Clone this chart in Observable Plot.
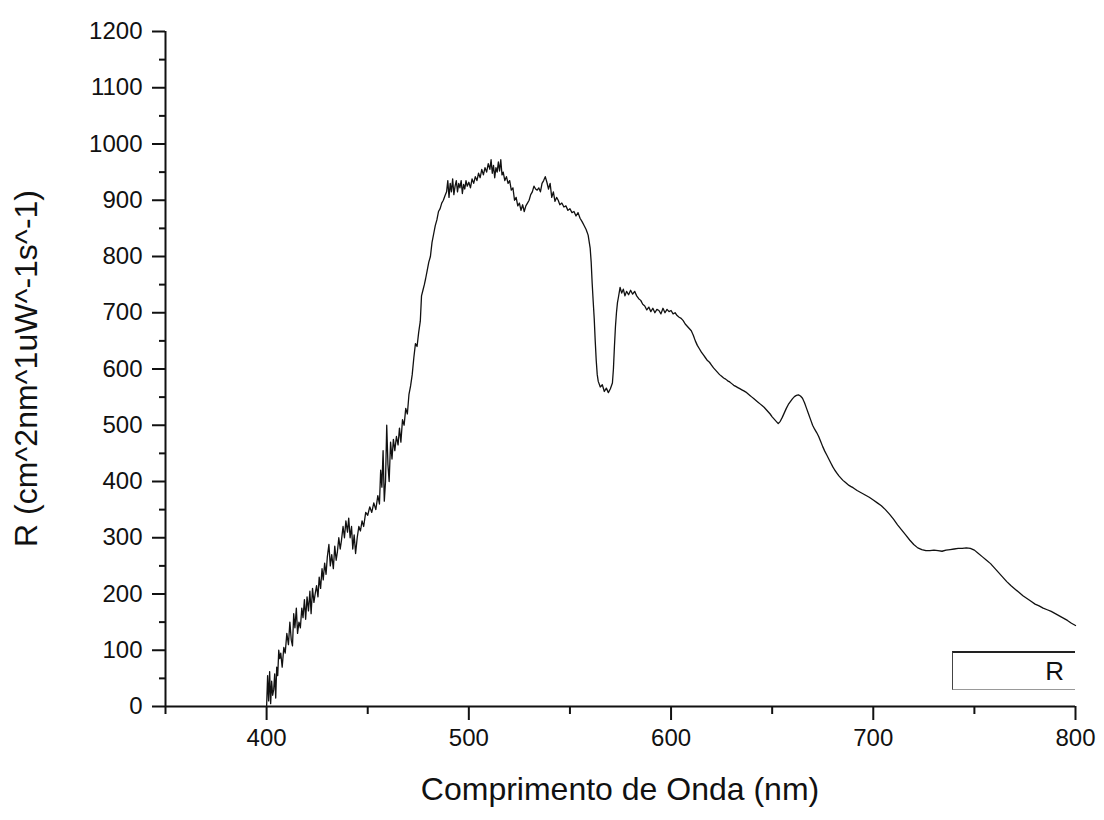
<!DOCTYPE html>
<html>
<head>
<meta charset="utf-8">
<script src="https://cdn.jsdelivr.net/npm/d3@7"></script>
<script src="https://cdn.jsdelivr.net/npm/@observablehq/plot@0.6"></script>
<style>
  html, body { margin: 0; padding: 0; background: #fff; }
  #wrap { position: relative; width: 1104px; height: 820px; font-family: "Liberation Sans", Arial, sans-serif; }
  #legend { position: absolute; left: 952px; top: 651px; width: 123px; height: 39px; box-sizing: border-box;
    border-top: 2px solid #222; border-left: 1.5px solid #444; border-bottom: 1.5px solid #999; }
  #legend span { position: absolute; right: 11px; top: 3px; font-size: 26px; line-height: 30px; color: #111; }
</style>
</head>
<body>
<div id="wrap"></div>
<script>
// ---- data ----
const wavelength = [
400,400.5,401,401.5,402,402.5,403,403.5,404,404.5,405,405.5,406,406.5,407,407.7,408.5,409.2,410,410.8,
411.5,412.2,412.8,413.4,414,414.7,415.3,416,416.7,417.4,418,418.7,419.3,420,420.7,421.4,422,422.7,423.4,424,
424.7,425.4,426,426.7,427.4,428,428.7,429.4,430,430.8,431.5,432.2,433,433.7,434.4,435,435.7,436.4,437,437.8,
438.5,439.2,440,440.6,441.3,442,442.6,443.3,444,444.8,445.6,446.4,447.2,448,449,450,451,452,453,454,
455,455.8,456.4,457,457.6,458.2,458.8,459.4,460,460.6,461.3,462,462.7,463.4,464.2,465,465.7,466.4,467.2,468,
468.8,469.6,470.4,471.2,472,472.8,473.6,474.4,475.2,476,476.6,477.3,478,478.6,479.4,480.2,481,481.8,482.6,483.4,
484.2,485,485.8,486.6,487.4,488.2,489,489.6,490.2,490.8,491.4,492,492.6,493.2,493.8,494.4,495,495.6,496.2,496.8,
497.4,498,498.6,499.2,500,500.8,501.6,502.4,503.2,504,504.8,505.6,506.4,507.2,508,508.8,509.6,510.4,511,511.6,
512.2,512.8,513.4,514,514.6,515.2,515.8,516.4,517,517.8,518.6,519.4,520.2,521,521.8,522.6,523.4,524.2,525,525.8,
526.6,527.4,528.2,529,529.8,530.6,531.4,532.2,533,533.8,534.6,535.4,536.2,537,537.8,538.6,539.4,540.2,541,541.8,
542.6,543.4,544.2,545,546,547,548,549,550,551,552,553,554,555,556,557,558,559,560,560.5,
561,561.5,562,562.5,563,563.5,564,565,566,567,568,569,570,571,571.5,572,572.5,573,573.5,574,
574.8,575.6,576.4,577.2,578,579,580,581,582,583,584,585,586,587,588,589,590,591,592,593,
594,595,596,597,598,599,600,601,602,603,604,605,606,607,608,609,610,611,612,613,
614,615,616,617,618,619,620,621,622,623,624,625,626,627,628,629,630,631,632,633,
634,635,636,637,638,639,640,641,642,643,644,645,646,647,648,649,650,651,652,653,
654,655,656,657,658,659,660,661,662,663,664,665,666,667,668,669,670,671,672,673,
674,675,676,677,678,679,680,681,682,683,684,685,686,687,688,689,690,692,694,696,
698,700,702,704,706,708,710,712,714,716,718,720,722,724,726,728,730,732,734,736,
738,740,742,744,746,748,750,752,754,756,758,760,762,764,766,768,770,772,774,776,
778,780,782,784,786,788,790,792,794,796,798,800
];
const reflectance = [
0,55,10,62,5,45,20,30,58,15,70,55,100,85,95,70,105,95,130,110,
150,118,108,165,140,175,130,150,140,175,158,190,155,195,170,205,165,210,185,200,
215,195,230,210,245,225,255,235,265,288,250,270,245,285,260,275,300,280,295,320,
300,330,310,335,300,320,280,305,272,300,320,312,330,320,345,340,355,345,362,350,
375,360,420,390,455,365,400,500,430,400,470,440,475,455,480,465,495,470,510,500,
530,520,555,570,590,620,645,640,665,685,730,740,750,760,775,790,800,825,840,855,
865,880,885,895,900,908,915,935,905,930,915,938,910,925,935,915,930,922,935,912,
928,920,935,925,932,922,938,930,942,935,948,940,955,945,958,950,965,955,972,948,
962,940,958,950,968,952,972,945,950,935,942,930,935,918,922,900,905,890,895,882,
892,880,890,895,900,910,915,925,920,918,922,915,930,935,942,932,920,930,905,915,
898,905,900,892,895,888,890,882,885,878,880,872,878,868,862,855,848,838,815,790,
752,720,690,650,615,590,578,568,572,560,566,558,565,575,600,640,675,700,718,728,
745,735,742,730,738,732,740,733,738,730,725,722,715,712,705,710,702,708,700,706,
704,698,708,700,706,702,704,698,700,695,692,690,686,680,676,672,668,660,650,642,
636,630,625,620,615,612,607,602,598,594,590,587,584,582,579,577,574,571,569,567,
565,563,561,559,556,553,550,547,544,541,538,535,532,528,524,520,515,511,507,503,
507,514,522,530,537,542,547,551,553,554,552,548,540,530,520,510,500,493,487,480,
471,462,454,447,440,433,426,420,415,410,406,402,399,396,393,391,389,384,380,376,
372,367,362,357,350,342,333,323,314,305,296,288,282,279,277,277,278,277,276,278,
279,280,281,281,282,281,278,272,266,260,254,246,238,230,222,215,209,203,197,192,
187,182,179,175,172,169,165,161,157,153,148,144
];
const xDomain = [350, 800];
const yDomain = [0, 1200];
const xMajorTicks = [400, 500, 600, 700, 800];
const xMinorTicks = [350, 450, 550, 650, 750];
const yMajorTicks = [0, 100, 200, 300, 400, 500, 600, 700, 800, 900, 1000, 1100, 1200];
const yMinorTicks = [50, 150, 250, 350, 450, 550, 650, 750, 850, 950, 1050, 1150];
const xTitle = "Comprimento de Onda (nm)";
const yTitle = "R (cm^2nm^1uW^-1s^-1)";
const legendLabel = "R";

const rows = wavelength.map((w, i) => ({nm: w, R: reflectance[i]}));

const W = 1104, H = 820;
const mL = 165, mR = 29, mT = 31, mB = 114;
const font = "'Liberation Sans', Arial, sans-serif";

const chart = Plot.plot({
  width: W, height: H,
  marginLeft: mL, marginRight: mR, marginTop: mT, marginBottom: mB,
  style: {fontFamily: font, fontSize: "24px", color: "#111", background: "#fff"},
  x: {domain: xDomain},
  y: {domain: yDomain},
  marks: [
    Plot.axisY({ticks: yMajorTicks, tickSize: 13, tickPadding: 10, strokeWidth: 2, fontSize: 24, label: null, tickFormat: d => String(d)}),
    Plot.axisY({ticks: yMinorTicks, tickSize: 6, strokeWidth: 2, tickFormat: () => "", label: null}),
    Plot.axisX({ticks: xMajorTicks, tickSize: 14, tickPadding: 8, strokeWidth: 2, fontSize: 24, label: null, tickFormat: d => String(d)}),
    Plot.axisX({ticks: xMinorTicks, tickSize: 8, strokeWidth: 2, tickFormat: () => "", label: null}),
    Plot.ruleX([xDomain[0]], {stroke: "#111", strokeWidth: 2}),
    Plot.ruleY([yDomain[0]], {stroke: "#111", strokeWidth: 2}),
    Plot.line(rows, {x: "nm", y: "R", stroke: "#111", strokeWidth: 1.3})
  ]
});

const svg = d3.select(chart);
svg.append("text")
  .attr("x", mL + (W - mL - mR) / 2).attr("y", 800)
  .attr("text-anchor", "middle").attr("font-size", 32).attr("font-family", font).attr("fill", "#111")
  .text(xTitle);
svg.append("text")
  .attr("transform", `translate(37,${mT + (H - mT - mB) / 2}) rotate(-90)`)
  .attr("text-anchor", "middle").attr("font-size", 32).attr("font-family", font).attr("fill", "#111")
  .text(yTitle);

const wrap = document.getElementById("wrap");
wrap.appendChild(chart);
const leg = document.createElement("div");
leg.id = "legend";
const sp = document.createElement("span");
sp.textContent = legendLabel;
leg.appendChild(sp);
wrap.appendChild(leg);
</script>
</body>
</html>
